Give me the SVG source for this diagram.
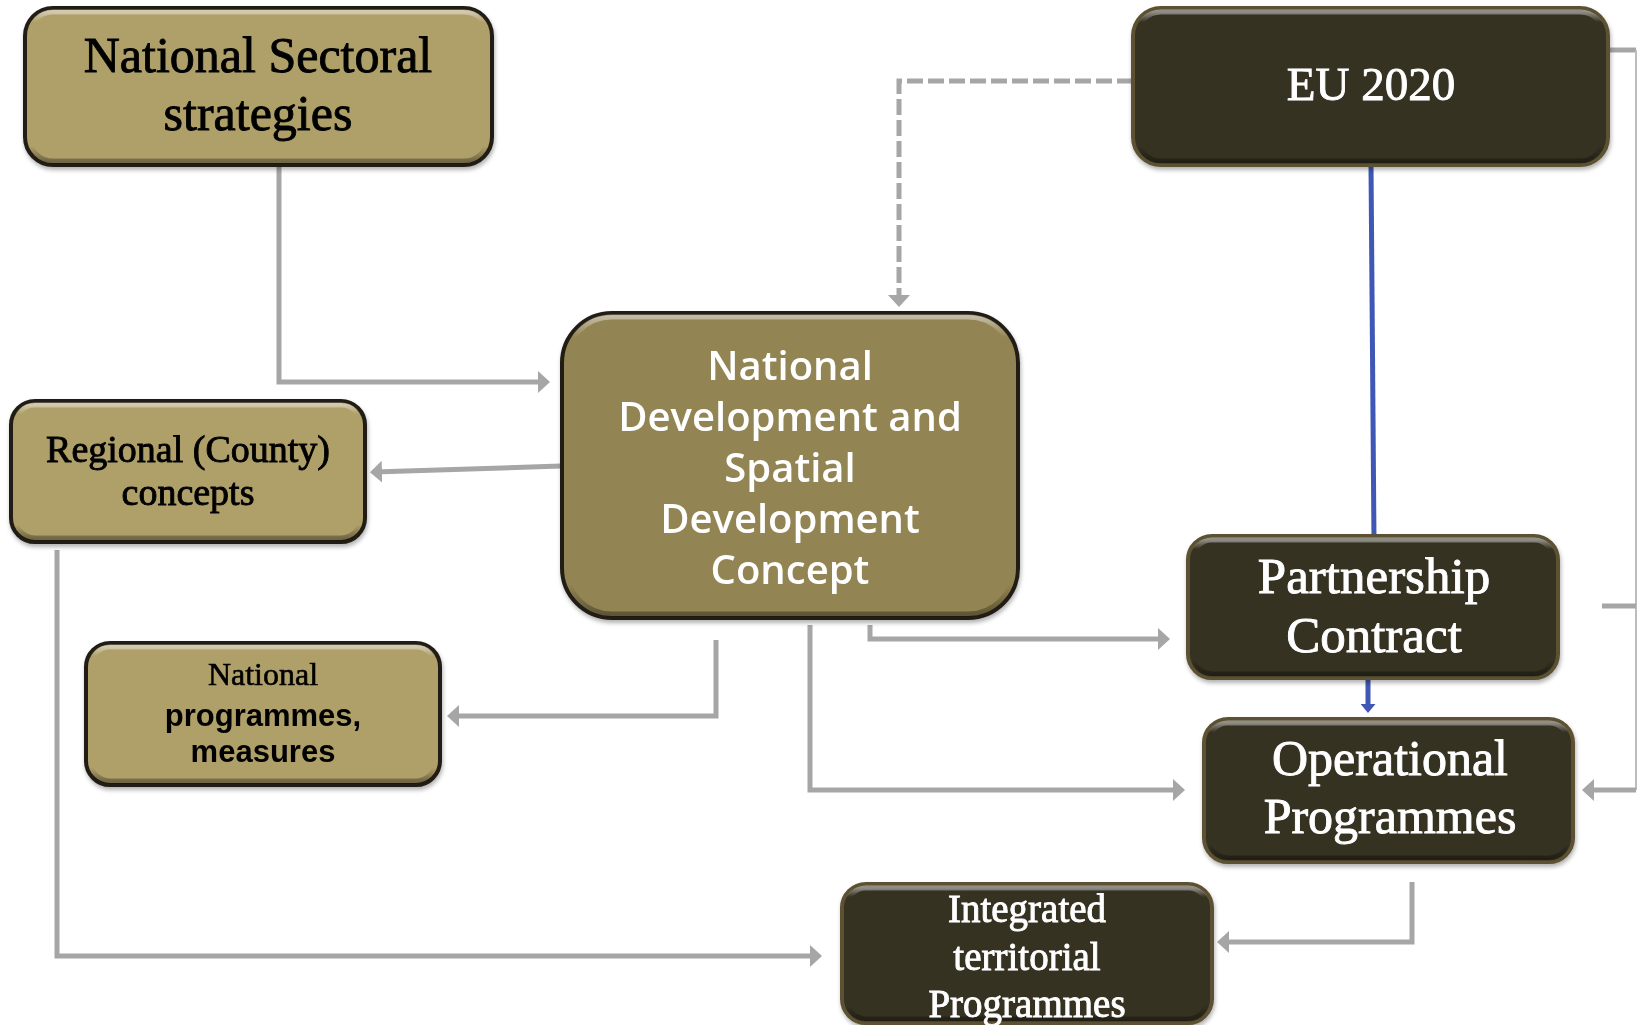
<svg xmlns="http://www.w3.org/2000/svg" width="1637" height="1025" viewBox="0 0 1637 1025">
<style>
.gold{fill:#AF9F69;stroke:#221e13;stroke-width:4}
.goldD{fill:#928453;stroke:#221e13;stroke-width:4}
.dark{fill:#343022;stroke:#5c5131;stroke-width:4}
.bev{fill:none;stroke:url(#bevG);stroke-width:5}
.serif{font-family:"Liberation Serif","Times New Roman",serif;text-anchor:middle;stroke-width:0.9}
.sans{font-family:"Open Sans","Liberation Sans",sans-serif;text-anchor:middle}
.blk{fill:#000;stroke:#000}
.wht{fill:#fff;stroke:#fff}
.sans.wht{stroke:none}
.con{fill:none;stroke:#A6A6A6;stroke-width:5}
.blue{fill:none;stroke:#3F57B5;stroke-width:5}
</style>
<defs>
<linearGradient id="bevG" x1="0" y1="0" x2="0" y2="1">
<stop offset="0" stop-color="#fff" stop-opacity="0.45"/>
<stop offset="0.07" stop-color="#fff" stop-opacity="0"/>
<stop offset="0.9" stop-color="#000" stop-opacity="0"/>
<stop offset="1" stop-color="#000" stop-opacity="0.35"/>
</linearGradient>
<filter id="sh" x="-5%" y="-5%" width="110%" height="115%">
<feDropShadow dx="1" dy="3" stdDeviation="2" flood-color="#000" flood-opacity="0.3"/>
</filter>
<marker id="ag" viewBox="0 0 12 22" refX="8" refY="11" markerWidth="12" markerHeight="22" markerUnits="userSpaceOnUse" orient="auto">
<path d="M0,0 L12,11 L0,22 z" fill="#A6A6A6"/>
</marker>
<marker id="ab" viewBox="0 0 9 15" refX="5" refY="7.5" markerWidth="9" markerHeight="15" markerUnits="userSpaceOnUse" orient="auto">
<path d="M0,0 L9,7.5 L0,15 z" fill="#3F57B5"/>
</marker>
</defs>
<rect width="1637" height="1025" fill="#fff"/>

<g id="connectors">
<path class="con" d="M279,165 V382 H546" marker-end="url(#ag)"/>
<path class="con" d="M561,466 L374,472" marker-end="url(#ag)"/>
<path class="con" d="M57,550 V956 H818" marker-end="url(#ag)"/>
<path class="con" d="M716,640 V716 H451" marker-end="url(#ag)"/>
<path class="con" d="M810,625 V790 H1181" marker-end="url(#ag)"/>
<path class="con" d="M870,625 V639 H1166" marker-end="url(#ag)"/>
<path class="con" d="M1133,81 H899 V303" stroke-dasharray="16 5" marker-end="url(#ag)"/>
<path class="blue" d="M1371,165 L1374,541" marker-end="url(#ab)"/>
<path class="blue" d="M1368,670 V709" marker-end="url(#ab)"/>
<path class="con" d="M1608,50 H1636" stroke-width="4"/>
<path fill="none" stroke="#BDBDBD" stroke-width="2" d="M1636,50 V790"/>
<path class="con" d="M1602,606 H1636" stroke-width="4"/>
<path class="con" d="M1636,790 H1586" stroke-width="4" marker-end="url(#ag)"/>
<path class="con" d="M1412,882 V942 H1221" marker-end="url(#ag)"/>
</g>

<g id="node-national-sectoral" filter="url(#sh)">
<rect class="gold" x="25" y="8" width="467" height="157" rx="28"/>
<rect class="bev" x="29" y="12" width="459" height="149" rx="24"/>
<text class="serif blk" font-size="50"><tspan x="258" y="72">National Sectoral</tspan><tspan x="258" y="130">strategies</tspan></text>
</g>

<g id="node-eu2020" filter="url(#sh)">
<rect class="dark" x="1133" y="8" width="475" height="157" rx="28"/>
<rect class="bev" x="1137" y="12" width="467" height="149" rx="24"/>
<text class="serif wht" font-size="47" x="1371" y="100">EU 2020</text>
</g>

<g id="node-ndsdc" filter="url(#sh)">
<rect class="goldD" x="562" y="313" width="456" height="305" rx="50"/>
<rect class="bev" x="566" y="317" width="448" height="297" rx="46"/>
<text class="sans wht" font-size="40" font-weight="600"><tspan x="790" y="380">National</tspan><tspan x="790" y="431">Development and</tspan><tspan x="790" y="482">Spatial</tspan><tspan x="790" y="533">Development</tspan><tspan x="790" y="584">Concept</tspan></text>
</g>

<g id="node-regional" filter="url(#sh)">
<rect class="gold" x="11" y="401" width="354" height="141" rx="24"/>
<rect class="bev" x="15" y="405" width="346" height="133" rx="20"/>
<text class="serif blk" font-size="38"><tspan x="188" y="462">Regional (County)</tspan><tspan x="188" y="505">concepts</tspan></text>
</g>

<g id="node-national-programmes" filter="url(#sh)">
<rect class="gold" x="86" y="643" width="354" height="142" rx="24"/>
<rect class="bev" x="90" y="647" width="346" height="134" rx="20"/>
<text class="serif blk" font-size="32" x="263" y="685" style="stroke-width:0.6">National</text>
<text font-family="'Liberation Sans',Arial,sans-serif" font-weight="bold" font-size="31" text-anchor="middle" fill="#000"><tspan x="263" y="726">programmes,</tspan><tspan x="263" y="762">measures</tspan></text>
</g>

<g id="node-partnership" filter="url(#sh)">
<rect class="dark" x="1188" y="536" width="370" height="142" rx="24"/>
<rect class="bev" x="1192" y="540" width="362" height="134" rx="20"/>
<text class="serif wht" font-size="51"><tspan x="1374" y="593">Partnership</tspan><tspan x="1374" y="652">Contract</tspan></text>
</g>

<g id="node-operational" filter="url(#sh)">
<rect class="dark" x="1204" y="719" width="369" height="143" rx="24"/>
<rect class="bev" x="1208" y="723" width="361" height="135" rx="20"/>
<text class="serif wht" font-size="50"><tspan x="1390" y="775">Operational</tspan><tspan x="1390" y="833">Programmes</tspan></text>
</g>

<g id="node-integrated" filter="url(#sh)">
<rect class="dark" x="842" y="884" width="370" height="139" rx="24"/>
<rect class="bev" x="846" y="888" width="362" height="131" rx="20"/>
<text class="serif wht" font-size="39"><tspan x="1027" y="922">Integrated</tspan><tspan x="1027" y="970">territorial</tspan><tspan x="1027" y="1017">Programmes</tspan></text>
</g>
</svg>
